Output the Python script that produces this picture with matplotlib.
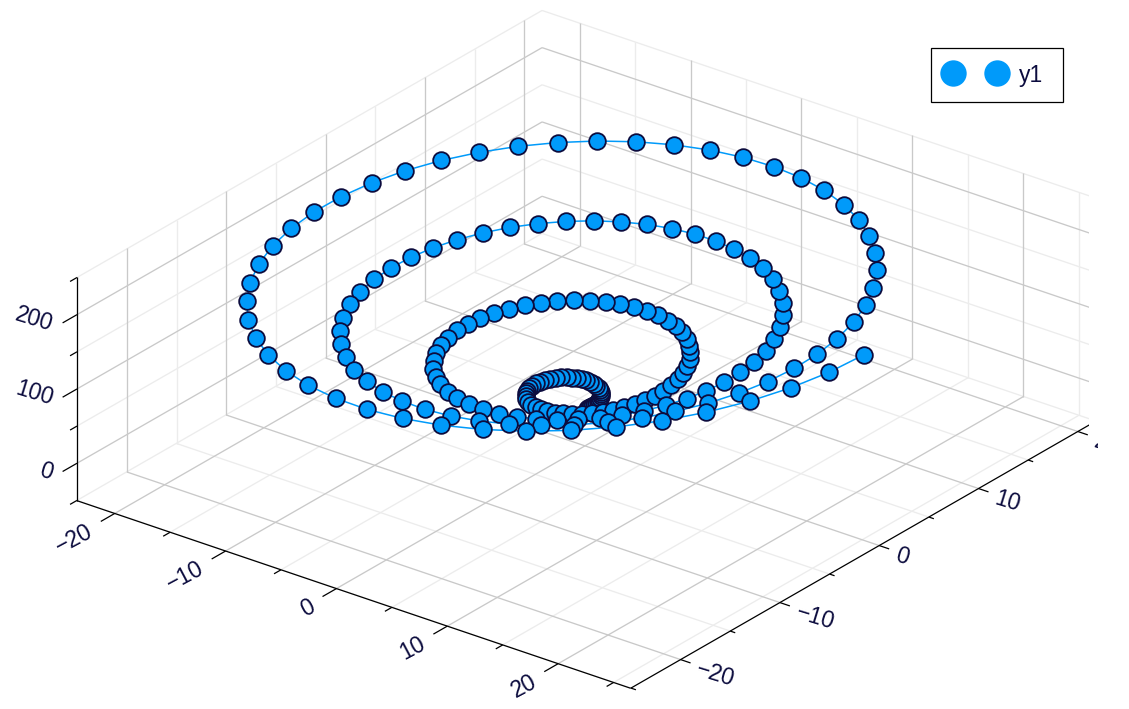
import matplotlib
matplotlib.use("Agg")
import matplotlib.pyplot as plt
from matplotlib.legend_handler import HandlerLine2D
from matplotlib.lines import Line2D
from matplotlib.transforms import Bbox, IdentityTransform, TransformedBbox
from mpl_toolkits.mplot3d import proj3d

x = [0.13, 0.24, 0.35, 0.44, 0.51, 0.55, 0.56, 0.54, 0.48, 0.39,
     0.26, 0.10, -0.10, -0.33, -0.58, -0.86, -1.15, -1.44, -1.74, -2.03,
     -2.31, -2.57, -2.80, -2.99, -3.14, -3.24, -3.29, -3.27, -3.19, -3.05,
     -2.84, -2.56, -2.22, -1.82, -1.36, -0.85, -0.29, 0.30, 0.92, 1.55,
     2.19, 2.83, 3.44, 4.03, 4.58, 5.07, 5.49, 5.84, 6.11, 6.28,
     6.36, 6.33, 6.19, 5.95, 5.59, 5.13, 4.57, 3.91, 3.16, 2.33,
     1.44, 0.49, -0.50, -1.51, -2.52, -3.53, -4.51, -5.45, -6.32, -7.12,
     -7.82, -8.41, -8.89, -9.23, -9.43, -9.48, -9.37, -9.11, -8.70, -8.13,
     -7.42, -6.57, -5.59, -4.49, -3.30, -2.03, -0.69, 0.69, 2.10, 3.50,
     4.87, 6.20, 7.45, 8.61, 9.66, 10.57, 11.33, 11.93, 12.34, 12.57,
     12.59, 12.42, 12.04, 11.45, 10.68, 9.71, 8.57, 7.27, 5.83, 4.27,
     2.61, 0.88, -0.89, -2.68, -4.47, -6.21, -7.88, -9.45, -10.90, -12.20,
     -13.33, -14.25, -14.97, -15.46, -15.71, -15.71, -15.46, -14.96, -14.21, -13.22,
     -12.00, -10.57, -8.96, -7.17, -5.24, -3.20, -1.08, 1.09, 3.27, 5.44,
     7.54, 9.56, 11.45, 13.19, 14.74, 16.08, 17.18, 18.01, 18.58, 18.85,
     18.83, 18.50, 17.88, 16.96, 15.76, 14.29, 12.58, 10.64, 8.51, 6.21,
     3.79, 1.28, -1.29, -3.86, -6.41, -8.88, -11.25, -13.46, -15.48, -17.28,
     -18.83, -20.10, -21.06, -21.69, -21.99, -21.94, -21.54, -20.80, -19.71, -18.30,
     -16.58, -14.58, -12.32, -9.85, -7.18, -4.38, -1.48, 1.48, 4.45, 7.38,
     10.22, 12.93, 15.46, 17.77, 19.82, 21.58, 23.02, 24.10, 24.81, 25.13]

y = [0.02, 0.06, 0.14, 0.24, 0.37, 0.52, 0.68, 0.85, 1.02, 1.20,
     1.36, 1.51, 1.63, 1.73, 1.79, 1.82, 1.80, 1.74, 1.63, 1.48,
     1.27, 1.02, 0.72, 0.38, 0.00, -0.41, -0.84, -1.30, -1.76, -2.22,
     -2.67, -3.10, -3.50, -3.87, -4.18, -4.44, -4.64, -4.77, -4.81, -4.78,
     -4.66, -4.46, -4.16, -3.79, -3.32, -2.79, -2.17, -1.50, -0.77, 0.00,
     0.80, 1.63, 2.45, 3.27, 4.06, 4.82, 5.52, 6.15, 6.71, 7.17,
     7.53, 7.78, 7.90, 7.90, 7.77, 7.50, 7.11, 6.58, 5.94, 5.17,
     4.30, 3.33, 2.28, 1.17, 0.00, -1.20, -2.41, -3.61, -4.78, -5.91,
     -6.97, -7.94, -8.81, -9.55, -10.16, -10.62, -10.91, -11.04, -10.99, -10.76,
     -10.35, -9.76, -9.01, -8.09, -7.02, -5.81, -4.49, -3.06, -1.56, 0.00,
     1.59, 3.19, 4.77, 6.30, 7.76, 9.12, 10.36, 11.46, 12.39, 13.15,
     13.70, 14.05, 14.17, 14.07, 13.74, 13.19, 12.41, 11.43, 10.24, 8.86,
     7.33, 5.64, 3.84, 1.95, 0.00, -1.98, -3.97, -5.92, -7.81, -9.60,
     -11.27, -12.78, -14.11, -15.24, -16.13, -16.79, -17.18, -17.31, -17.16, -16.73,
     -16.03, -15.07, -13.85, -12.39, -10.71, -8.84, -6.80, -4.63, -2.35, 0.00,
     2.38, 4.75, 7.08, 9.32, 11.45, 13.42, 15.20, 16.76, 18.08, 19.12,
     19.87, 20.32, 20.44, 20.24, 19.72, 18.88, 17.72, 16.27, 14.54, 12.56,
     10.35, 7.96, 5.41, 2.74, 0.00, -2.77, -5.53, -8.23, -10.84, -13.30,
     -15.57, -17.62, -19.42, -20.92, -22.11, -22.96, -23.45, -23.58, -23.33, -22.71,
     -21.72, -20.37, -18.69, -16.69, -14.40, -11.87, -9.11, -6.19, -3.13, 0.00]

z = [0, 1, 2, 3, 4, 5, 6, 7, 8, 9, 10, 11, 12, 13, 14, 15, 16, 17, 18, 19,
     20, 21, 22, 23, 24, 25, 26, 27, 28, 29, 30, 31, 32, 33, 34, 35, 36, 37, 38, 39,
     40, 41, 42, 43, 44, 45, 46, 47, 48, 49, 50, 51, 52, 53, 54, 55, 56, 57, 58, 59,
     60, 61, 62, 63, 64, 65, 66, 67, 68, 69, 70, 71, 72, 73, 74, 75, 76, 77, 78, 79,
     80, 81, 82, 83, 84, 85, 86, 87, 88, 89, 90, 91, 92, 93, 94, 95, 96, 97, 98, 99,
     100, 101, 102, 103, 104, 105, 106, 107, 108, 109, 110, 111, 112, 113, 114, 115, 116, 117, 118, 119,
     120, 121, 122, 123, 124, 125, 126, 127, 128, 129, 130, 131, 132, 133, 134, 135, 136, 137, 138, 139,
     140, 141, 142, 143, 144, 145, 146, 147, 148, 149, 150, 151, 152, 153, 154, 155, 156, 157, 158, 159,
     160, 161, 162, 163, 164, 165, 166, 167, 168, 169, 170, 171, 172, 173, 174, 175, 176, 177, 178, 179,
     180, 181, 182, 183, 184, 185, 186, 187, 188, 189, 190, 191, 192, 193, 194, 195, 196, 197, 198, 199]

x_major = [-20, -10, 0, 10, 20]
x_minor = [-15, -5, 5, 15, 25]
y_major = [-20, -10, 0, 10, 20]
y_minor = [-25, -15, -5, 5, 15]
z_major = [0, 100, 200]
z_minor = [-50, 50, 150, 250]
x_lim = (-23.4, 26.54)
y_lim = (-25.03, 21.8)
z_lim = (-50.4, 250.6)

BLUE = "#009AFA"
NAVY = "#0C0C3E"
GRID = "#C9C9C9"
GRID_MINOR = "#ECECEC"

plt.rcParams["font.family"] = ["Liberation Sans", "DejaVu Sans"]

W, H = 1129, 709
fig = plt.figure(figsize=(W / 100, H / 100), dpi=100)
side = 1033
ax = fig.add_axes([55.9 / W, -170.6 / H, side / W, side / H],
                  projection="3d", computed_zorder=False)
ax.set_proj_type("ortho")
ax.view_init(elev=26.17, azim=-52.47)
ax.set_box_aspect((698.1, 763.4, 249.2))
ax.set_axis_off()


def seg(p, q, color, lw):
    ax.plot([p[0], q[0]], [p[1], q[1]], [p[2], q[2]], color=color, lw=lw,
            solid_capstyle="butt")


x0, x1 = x_lim
y0, y1 = y_lim
z0, z1 = z_lim

# grid on floor and the two back walls, minor first
for vals_x, vals_y, vals_z, c in [(x_minor, y_minor, z_minor, GRID_MINOR),
                                  (x_major, y_major, z_major, GRID)]:
    for v in vals_x:
        seg((v, y0, z0), (v, y1, z0), c, 0.95)
        seg((v, y1, z0), (v, y1, z1), c, 0.95)
    for v in vals_y:
        seg((x0, v, z0), (x1, v, z0), c, 0.95)
        seg((x0, v, z0), (x0, v, z1), c, 0.95)
    for v in vals_z:
        seg((x0, y0, v), (x0, y1, v), c, 0.95)
        seg((x0, y1, v), (x1, y1, v), c, 0.95)

# axis lines
seg((x0, y0, z0), (x1, y0, z0), "black", 0.9)
seg((x1, y0, z0), (x1, y1, z0), "black", 0.9)
seg((x0, y0, z0), (x0, y0, z1), "black", 0.9)

# ticks
for v in x_major + x_minor:
    seg((v, y0, z0), (v, y0 - (1.4 if v in x_major else 0.7), z0), "black", 0.9)
for v in y_major + y_minor:
    seg((x1, v, z0), (x1 + (0.9 if v in y_major else 0.45), v, z0), "black", 0.9)
for v in z_major + z_minor:
    seg((x0, y0, v), (x0, y0 - (1.45 if v in z_major else 0.7), v), "black", 0.9)

# the series
ax.plot(x, y, z, color=BLUE, lw=1.1, marker="o", markersize=12,
        markerfacecolor=BLUE, markeredgecolor=NAVY, markeredgewidth=1.3)

ax.set_xlim(x_lim)
ax.set_ylim(y_lim)
ax.set_zlim(z_lim)

# tick labels go on the figure at the projected spot, so rotation works
ax.apply_aspect()
proj = ax.get_proj()
clip = TransformedBbox(Bbox([[0, 0], [1098, H]]), IdentityTransform())


def label3d(a, b, c, s, rot, ha):
    xp, yp, _ = proj3d.proj_transform(a, b, c, proj)
    px, py = ax.transData.transform((xp, yp))
    t = fig.text(px / W, py / H, s, color=NAVY, fontsize=16.5, rotation=rot,
                 ha=ha, va="center", rotation_mode="anchor")
    t.set_clip_box(clip)
    t.set_clip_on(True)


for v in x_major:
    label3d(v, y0 - 2.35, z0 - 4, str(v).replace("-", "\u2212"), 28, "right")
for v in y_major:
    label3d(x1 + 1.5, v, z0 - 5, str(v).replace("-", "\u2212"), -17, "left")
for v in z_major:
    label3d(x0, y0 - 2.45, v + 5.5, str(v), -17, "right")

handle = Line2D([], [], ls="none", marker="o", markersize=19, color=BLUE,
                markeredgewidth=0)
leg = ax.legend([handle], ["y1"], fontsize=16.5, loc="upper left", mode="expand",
                handler_map={handle: HandlerLine2D(numpoints=2, marker_pad=0.27)},
                bbox_to_anchor=(931 / W, 1 - 47.7 / H - 0.05, 132 / W, 0.05),
                bbox_transform=fig.transFigure,
                borderaxespad=0, borderpad=0.69, handlelength=2.46, handletextpad=0.69,
                fancybox=False, framealpha=1, edgecolor="black", labelcolor=NAVY)
leg.get_frame().set_linewidth(0.9)

fig.savefig("out.png", dpi=100)
